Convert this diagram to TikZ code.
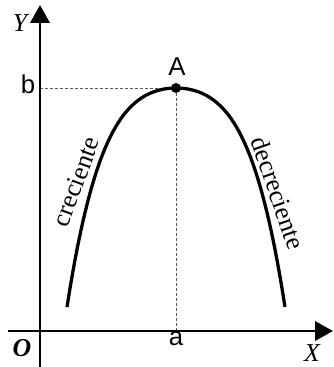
\documentclass[tikz,border=0pt]{standalone}
\usepackage{fontspec}
\setmainfont{Liberation Serif}
\newfontfamily\labelsans{Liberation Sans}
\usetikzlibrary{positioning,arrows.meta}

\begin{document}
\begin{tikzpicture}[
      x=0.3mm,y=0.3mm,
      axis/.style={line width=2.2pt,-{Triangle[length=5.4mm,width=5.8mm]}},
      guide/.style={black!65,line width=0.8pt,dash pattern=on 0.9mm off 0.6mm},
      curve/.style={line width=2.8pt},
      axlabel/.style={font=\fontsize{22}{26}\selectfont\itshape,inner sep=0pt},
      ptlabel/.style={font=\labelsans\fontsize{22}{26}\selectfont,inner sep=0pt},
      slopetext/.style={font=\fontsize{22}{26}\selectfont,inner sep=0pt},
      dot/.style={circle,fill=black,inner sep=0pt,minimum size=3mm}]
    \useasboundingbox (0,0) rectangle (333,367);
    % axes and reference points
    \coordinate (xfrom) at (8,36);
    \coordinate (xto)   at (333,36);
    \coordinate (yfrom) at (40,0);
    \coordinate (yto)   at (40,362);
    \coordinate (apex)  at (176,279);
    \coordinate (bpos)  at (yfrom |- apex);
    \coordinate (apos)  at (apex |- xfrom);
    \draw[guide] (bpos) -- (apex);
    \draw[guide] (apex) -- (apos);
    \draw[axis] (xfrom) -- (xto);
    \draw[axis] (yfrom) -- (yto);
    \draw[curve] plot[domain=-1.09:1.09,samples=90,smooth,variable=\u]
        ({176+100*\u},{279-72.4*\u*\u-94.3*\u*\u*\u*\u});
    \node[dot] (A) at (apex) {};
    % labels
    \node[ptlabel] (Alab) at (177,300) {A};
    \node[ptlabel] (blab) at (28,283) {b};
    \node[ptlabel] (alab) at (176,28) {a};
    \node[axlabel,font=\fontsize{22}{26}\selectfont\bfseries\itshape] (Olab) at (22,19) {O};
    \node[axlabel] (Xlab) at (312,14) {X};
    \node[axlabel] (Ylab) at (20,344) {Y};
    \node[slopetext,rotate=70]  (up)   at (76,185) {creciente};
    \node[slopetext,rotate=-71] (down) at (278,174) {decreciente};
\end{tikzpicture}
\end{document}
